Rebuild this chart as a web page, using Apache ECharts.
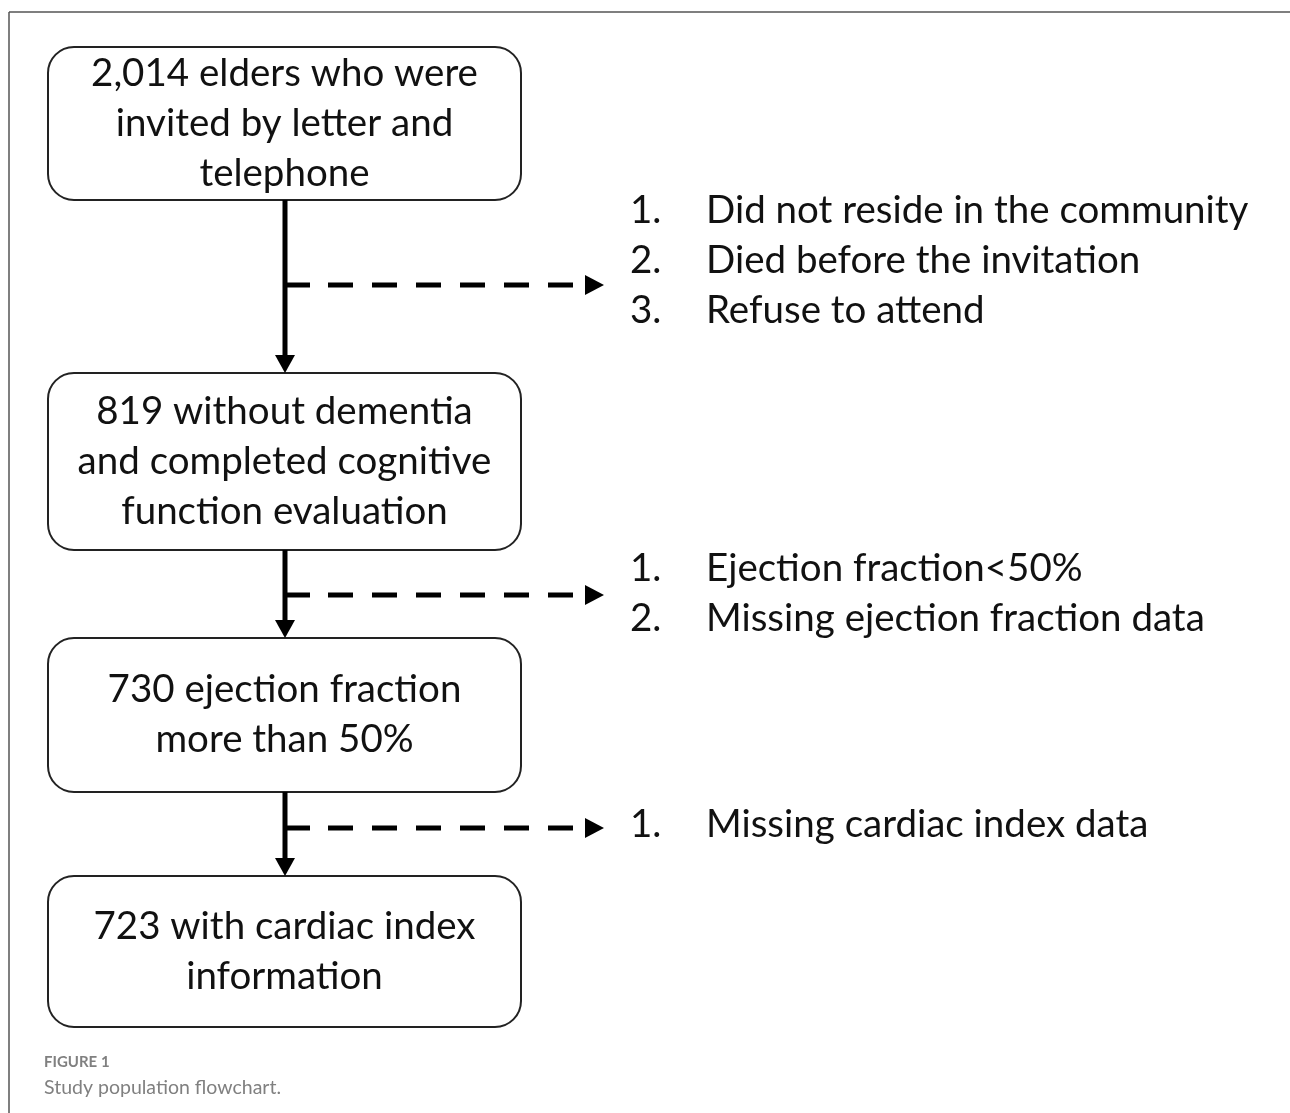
<!DOCTYPE html>
<html>
<head>
<meta charset="utf-8">
<script src="https://cdn.jsdelivr.net/npm/echarts@6/dist/echarts.min.js"></script>
<style>
  html, body { margin: 0; padding: 0; background: #fff; }
  #main { width: 1290px; height: 1113px; }
</style>
</head>
<body>
<div id="main"></div>
<script>
// flowchart content
var boxTexts = [
  ['2,014 elders who were', 'invited by letter and', 'telephone'],
  ['819 without dementia', 'and completed cognitive', 'function evaluation'],
  ['730 ejection fraction', 'more than 50%'],
  ['723 with cardiac index', 'information']
];
var exclusions = [
  ['Did not reside in the community', 'Died before the invitation', 'Refuse to attend'],
  ['Ejection fraction<50%', 'Missing ejection fraction data'],
  ['Missing cardiac index data']
];
var captionTitle = 'FIGURE 1';
var captionText = 'Study population flowchart.';

// layout
var boxLeft = 48, boxRight = 521;
var boxTop = [47, 373, 638, 876];
var boxBottom = [200, 550, 792, 1027];
var branchY = [285, 595, 828];
var exclTop = [211, 569, 825];
var lineH = 50;
var stemX = 285;
var font = 'Lato, "Open Sans", sans-serif';
var fs = '38.5px ';

var myChart = echarts.init(document.getElementById('main'));
var g = [];

// frame
g.push({ type: 'line', shape: { x1: 9, y1: 12, x2: 1290, y2: 12 }, style: { stroke: '#555', lineWidth: 1.5 } });
g.push({ type: 'line', shape: { x1: 9, y1: 12, x2: 9, y2: 1113 }, style: { stroke: '#555', lineWidth: 1.5 } });

boxTexts.forEach(function (lines, i) {
  var top = boxTop[i], bot = boxBottom[i];
  g.push({
    type: 'rect',
    shape: { x: boxLeft, y: top, width: boxRight - boxLeft, height: bot - top, r: 26 },
    style: { fill: '#fff', stroke: '#222', lineWidth: 2 }
  });
  var cy = (top + bot) / 2;
  var y0 = cy - (lines.length - 1) * lineH / 2;
  lines.forEach(function (t, j) {
    g.push({
      type: 'text',
      style: { text: t, x: (boxLeft + boxRight) / 2, y: y0 + j * lineH, align: 'center', verticalAlign: 'middle', font: fs + font, fill: '#111' }
    });
  });
});

// arrows between boxes
for (var i = 0; i < boxTexts.length - 1; i++) {
  var y1 = boxBottom[i], y2 = boxTop[i + 1];
  g.push({ type: 'line', shape: { x1: stemX, y1: y1, x2: stemX, y2: y2 - 16 }, style: { stroke: '#000', lineWidth: 5 } });
  g.push({ type: 'polygon', shape: { points: [[stemX - 10, y2 - 18], [stemX + 10, y2 - 18], [stemX, y2]] }, style: { fill: '#000' } });

  var by = branchY[i];
  g.push({ type: 'line', shape: { x1: stemX, y1: by, x2: 310, y2: by }, style: { stroke: '#000', lineWidth: 5 } });
  g.push({ type: 'line', shape: { x1: 328, y1: by, x2: 585, y2: by }, style: { stroke: '#000', lineWidth: 5, lineDash: [25, 19] } });
  g.push({ type: 'polygon', shape: { points: [[585, by - 10], [585, by + 10], [604, by]] }, style: { fill: '#000' } });

  exclusions[i].forEach(function (t, j) {
    var ty = exclTop[i] + j * lineH;
    g.push({ type: 'text', style: { text: (j + 1) + '.', x: 630, y: ty, verticalAlign: 'middle', font: fs + font, fill: '#111' } });
    g.push({ type: 'text', style: { text: t, x: 706, y: ty, verticalAlign: 'middle', font: fs + font, fill: '#111' } });
  });
}

// caption
g.push({ type: 'text', style: { text: captionTitle, x: 44, y: 1062, verticalAlign: 'middle', font: 'bold 15px ' + font, fill: '#808080' } });
g.push({ type: 'text', style: { text: captionText, x: 44, y: 1088, verticalAlign: 'middle', font: '19.5px ' + font, fill: '#808080' } });

var option = {
  animation: false,
  graphic: { elements: g }
};
myChart.setOption(option);
</script>
</body>
</html>
